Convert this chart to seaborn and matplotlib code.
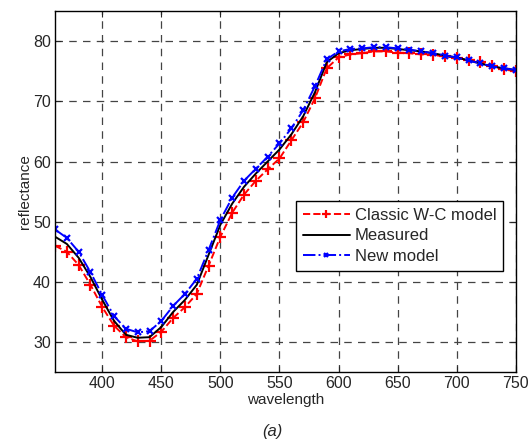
import matplotlib.pyplot as plt
import pandas as pd
import seaborn as sns

# wavelength samples (nm)
wavelength = list(range(360, 751, 10))

# Classic W-C model prediction
classic_wc = [46.0, 45.0, 42.8, 39.5, 35.8, 32.7, 30.8, 30.1, 30.2, 31.7,
              34.0, 35.8, 38.0, 42.7, 47.5, 51.5, 54.5, 56.8, 58.7, 60.5,
              63.5, 66.5, 70.5, 75.5, 77.3, 77.8, 78.0, 78.3, 78.3, 78.1,
              78.0, 77.8, 77.7, 77.5, 77.2, 76.9, 76.5, 75.9, 75.3, 75.0]

# measured reflectance
measured = [47.5, 46.3, 44.0, 40.8, 37.0, 33.5, 31.2, 30.7, 30.8, 32.5,
            35.0, 37.0, 39.5, 44.5, 49.5, 53.0, 55.8, 58.0, 60.0, 62.0,
            64.5, 67.5, 71.5, 76.5, 78.0, 78.5, 78.7, 78.9, 78.9, 78.7,
            78.5, 78.3, 78.0, 77.6, 77.3, 76.8, 76.3, 75.8, 75.5, 75.2]

# new model prediction
new_model = [48.7, 47.3, 45.0, 41.6, 37.8, 34.3, 32.2, 31.6, 31.8, 33.5,
             36.0, 38.0, 40.5, 45.3, 50.3, 54.0, 56.8, 58.8, 60.8, 63.0,
             65.5, 68.5, 72.5, 77.0, 78.3, 78.7, 78.8, 79.0, 79.0, 78.8,
             78.6, 78.3, 78.0, 77.6, 77.3, 76.8, 76.3, 75.8, 75.5, 75.2]

x_ticks = [400, 450, 500, 550, 600, 650, 700, 750]
y_ticks = [30, 40, 50, 60, 70, 80]

df = pd.DataFrame({"wavelength": wavelength, "classic": classic_wc,
                   "measured": measured, "new": new_model})

sns.set_style("ticks")
plt.rcParams['font.family'] = ['Liberation Sans', 'DejaVu Sans']
plt.rcParams['xtick.direction'] = 'in'
plt.rcParams['ytick.direction'] = 'in'

fig = plt.figure(figsize=(5.29, 4.44), dpi=100)
ax = fig.add_axes([0.104, 0.162, 0.871, 0.813])

# seaborn defaults marker edges to white, so give them the line colour
sns.lineplot(data=df, x="wavelength", y="classic", ax=ax, color="red",
             linestyle="--", linewidth=1.4, marker="+", markersize=9,
             markeredgewidth=1.6, markeredgecolor="red",
             label="Classic W-C model")
sns.lineplot(data=df, x="wavelength", y="measured", ax=ax, color="black",
             linewidth=1.4, label="Measured")
sns.lineplot(data=df, x="wavelength", y="new", ax=ax, color="blue",
             linestyle="-.", linewidth=1.4, marker="x", markersize=5,
             markeredgewidth=1.6, markeredgecolor="blue", label="New model")

ax.set_xlim(360, 750)
ax.set_ylim(25, 85)
ax.set_xticks(x_ticks)
ax.set_yticks(y_ticks)
ax.tick_params(top=True, right=True, labelsize=11.5, length=4, width=0.8, pad=3)
ax.grid(True, color='#444444', linestyle=(0, (6, 5)), linewidth=0.9)
for s in ax.spines.values():
    s.set_linewidth(1.0)
    s.set_color('black')

ax.set_xlabel("wavelength", fontsize=11, labelpad=1)
ax.set_ylabel("reflectance", fontsize=11, labelpad=1)

leg = ax.legend(loc='lower right', bbox_to_anchor=(0.972, 0.28), fontsize=12,
                frameon=True, fancybox=False, framealpha=1, edgecolor='black',
                borderpad=0.4, labelspacing=0.35, handlelength=2.8,
                handletextpad=0.3, borderaxespad=0, numpoints=1,
                markerscale=0.6)
leg.get_frame().set_linewidth(1.0)

fig.text(0.514, 0.028, "(a)", fontsize=12, style='italic', ha='center', va='center')

plt.savefig('out.png', dpi=100)
